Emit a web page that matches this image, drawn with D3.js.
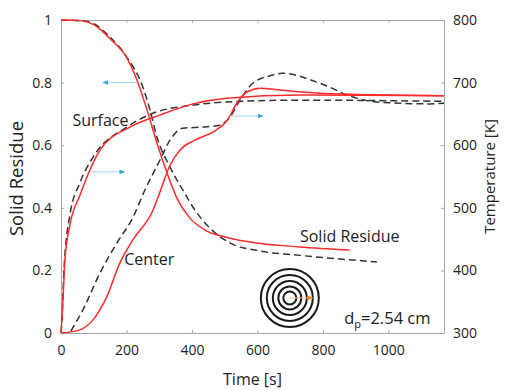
<!DOCTYPE html>
<html>
<head>
<meta charset="utf-8">
<script src="https://cdn.jsdelivr.net/npm/d3@7"></script>
<style>
  body { margin: 0; background: #fff; }
  text { font-family: "Open Sans", sans-serif; fill: #222; }
</style>
</head>
<body>
<div id="chart"></div>
<script>
// time [s], value pairs
const srModel = [[0,1.0],[60,0.998],[100,0.985],[150,0.94],[205,0.872],[232,0.808],[263,0.712],[293,0.607],[324,0.511],[354,0.431],[394,0.367],[440,0.329],[501,0.307],[577,0.291],[730,0.275],[882,0.265]];
const srExp = [[0,1.0],[60,0.998],[100,0.988],[150,0.945],[202,0.88],[250,0.786],[272,0.712],[293,0.626],[333,0.53],[372,0.457],[409,0.393],[455,0.335],[516,0.288],[608,0.262],[730,0.248],[965,0.227]];
const surfModel = [[0,300],[6,353],[12,417],[27,472],[58,520],[119,592],[211,629],[302,648],[403,666],[507,675],[730,680],[1170,679]];
const surfExp = [[0,300],[3,321],[9,400],[27,488],[58,540],[98,581],[201,629],[281,651],[403,664],[507,669],[730,672],[1170,670]];
const centModel = [[0,300],[43,303],[58,305],[98,321],[140,358],[180,412],[220,449],[281,496],[302,525],[333,568],[363,592],[409,608],[470,623],[507,639],[537,667],[568,685],[608,691],[669,688],[791,683],[1170,679]];
const centExp = [[30,303],[67,337],[119,396],[171,444],[220,485],[256,528],[302,576],[333,608],[372,627],[434,629],[485,632],[516,645],[547,672],[586,699],[647,712],[675,715],[791,699],[892,677],[965,669],[1127,666],[1170,667]];

const xTicks = [0, 200, 400, 600, 800, 1000];
const yTicks = [0, 0.2, 0.4, 0.6, 0.8, 1];
const tTicks = [300, 400, 500, 600, 700, 800];

// annotation arrows: [t0, v0, t1, v1] on the left axis
const blueArrows = [[232,0.80,128,0.80],[89,0.515,195,0.515],[517,0.693,617,0.693]];
const orangeArrow = [699,0.112,769,0.112];
const ringRadii = [29, 23, 17, 11.5, 6.5];

const width = 505, height = 390;
const margin = { top: 20, right: 61, bottom: 57, left: 61 };
const w = width - margin.left - margin.right;
const h = height - margin.top - margin.bottom;

const x = d3.scaleLinear().domain([0, 1170]).range([0, w]);
const y = d3.scaleLinear().domain([0, 1]).range([h, 0]);
const yT = d3.scaleLinear().domain([300, 800]).range([h, 0]);

const svg = d3.select("#chart").append("svg")
  .attr("width", width).attr("height", height)
  .append("g")
  .attr("transform", "translate(" + margin.left + "," + margin.top + ")");

const axisColor = "#a6a6a6";

svg.append("g").attr("transform", "translate(0," + h + ")")
  .call(d3.axisBottom(x).tickValues(xTicks).tickSize(-3).tickPadding(12).tickSizeOuter(0)
    .tickFormat(d3.format("d")));
svg.append("g")
  .call(d3.axisTop(x).tickValues(xTicks).tickSize(-3).tickFormat("").tickSizeOuter(0));
svg.append("g")
  .call(d3.axisLeft(y).tickValues(yTicks).tickSize(-3).tickPadding(9).tickSizeOuter(0)
    .tickFormat(d => d === 0 || d === 1 ? d3.format("d")(d) : d3.format(".1f")(d)));
svg.append("g").attr("transform", "translate(" + w + ",0)")
  .call(d3.axisRight(yT).tickValues(tTicks).tickSize(-3).tickPadding(9).tickSizeOuter(0));

svg.selectAll(".domain").style("stroke", axisColor);
svg.selectAll(".tick line").style("stroke", axisColor);
svg.selectAll(".tick text").style("font-size", "14px").style("fill", "#222")
  .style("font-family", "'Open Sans', sans-serif");

const lineV = d3.line().x(d => x(d[0])).y(d => y(d[1])).curve(d3.curveMonotoneX);
const lineT = d3.line().x(d => x(d[0])).y(d => yT(d[1])).curve(d3.curveMonotoneX);

const red = "#ff2a2a", dark = "#333";

[[srExp, lineV], [surfExp, lineT], [centExp, lineT]].forEach(([d, l]) => {
  svg.append("path").attr("d", l(d)).attr("fill", "none")
    .attr("stroke", dark).attr("stroke-width", 1.5).attr("stroke-dasharray", "7,4");
});
[[srModel, lineV], [surfModel, lineT], [centModel, lineT]].forEach(([d, l]) => {
  svg.append("path").attr("d", l(d)).attr("fill", "none")
    .attr("stroke", red).attr("stroke-width", 1.5);
});

// arrow heads
const defs = svg.append("defs");
function marker(id, color) {
  defs.append("marker").attr("id", id).attr("viewBox", "0 0 10 10")
    .attr("refX", 9).attr("refY", 5).attr("markerWidth", 6).attr("markerHeight", 6)
    .attr("orient", "auto")
    .append("path").attr("d", "M0,1L10,5L0,9Z").attr("fill", color);
}
marker("blueHead", "#3aa3e0");
marker("orangeHead", "#f5862a");

svg.selectAll(".barrow").data(blueArrows).enter().append("line")
  .attr("x1", d => x(d[0])).attr("y1", d => y(d[1]))
  .attr("x2", d => x(d[2])).attr("y2", d => y(d[3]))
  .attr("stroke", "#9fd3f2").attr("stroke-width", 1)
  .attr("marker-end", "url(#blueHead)");

// particle rings
const cx = x(orangeArrow[0]), cy = y(orangeArrow[1]);
svg.selectAll(".ring").data(ringRadii).enter().append("circle")
  .attr("cx", cx).attr("cy", cy).attr("r", d => d)
  .attr("fill", "none").attr("stroke", "#1a1a1a").attr("stroke-width", 2);

svg.append("line")
  .attr("x1", x(orangeArrow[0])).attr("y1", y(orangeArrow[1]))
  .attr("x2", x(orangeArrow[2])).attr("y2", y(orangeArrow[3]))
  .attr("stroke", "#f7b98a").attr("stroke-width", 1)
  .attr("marker-end", "url(#orangeHead)");

// labels
svg.append("text").attr("x", x(35)).attr("y", y(0.66)).style("font-size", "16px").text("Surface");
svg.append("text").attr("x", x(193)).attr("y", y(0.216)).style("font-size", "16px").text("Center");
svg.append("text").attr("x", x(730)).attr("y", y(0.29)).style("font-size", "16px").text("Solid Residue");
const dp = svg.append("text").attr("x", x(865)).attr("y", y(0.03)).style("font-size", "16.5px");
dp.append("tspan").text("d");
dp.append("tspan").attr("dy", 4).style("font-size", "11px").text("p");
dp.append("tspan").attr("dy", -4).text("=2.54 cm");

svg.append("text").attr("x", w / 2).attr("y", h + 52).attr("text-anchor", "middle")
  .style("font-size", "16px").text("Time [s]");
svg.append("text").attr("transform", "translate(-38," + (h / 2 + 2) + ") rotate(-90)")
  .attr("text-anchor", "middle").style("font-size", "18.5px").text("Solid Residue");
svg.append("text").attr("transform", "translate(" + (w + 51) + "," + (h / 2) + ") rotate(-90)")
  .attr("text-anchor", "middle").style("font-size", "15px").text("Temperature [K]");
</script>
</body>
</html>
